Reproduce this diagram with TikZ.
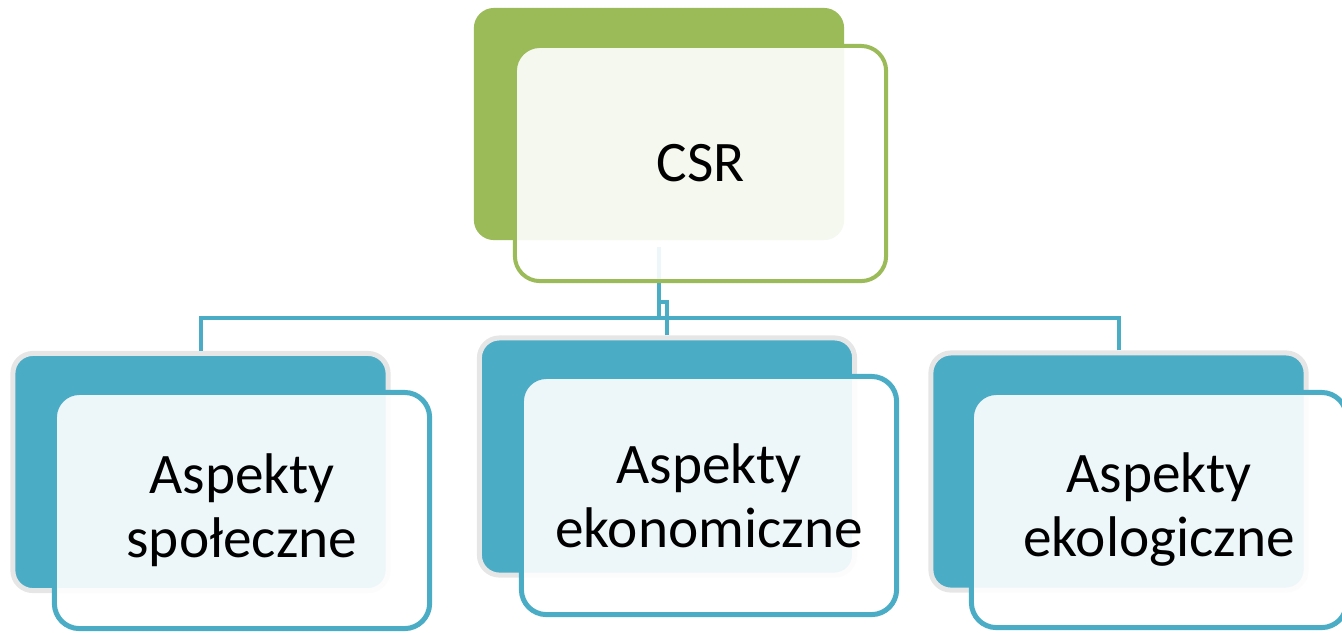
\documentclass[tikz,border=0pt]{standalone}
\usepackage{fontspec}
\setmainfont{Carlito}
\definecolor{csrgreen}{HTML}{9BBB59}
\definecolor{aspteal}{HTML}{4BACC6}
\definecolor{shadegray}{HTML}{E6E6E6}
\tikzset{
    backbox/.style={rounded corners=0.2cm, minimum width=3.75cm, minimum height=2.37cm, inner sep=0pt},
    frontbox/.style={rounded corners=0.25cm, minimum width=3.75cm, minimum height=2.36cm, inner sep=0pt,
        fill=white, fill opacity=0.9, text opacity=1, align=center,
        font=\fontsize{16.3}{18.2}\selectfont},
    link/.style={draw=aspteal, line width=0.04cm}
}
\begin{document}
\begin{tikzpicture}[x=0.01cm, y=-0.01cm]
    \useasboundingbox (0,0) rectangle (1342,632);

    % back boxes
    \node[backbox, fill=csrgreen, minimum width=3.70cm, minimum height=2.32cm] (csrback) at (659,124) {};
    \node[backbox, fill=aspteal, draw=shadegray, line width=0.05cm] (lback) at (200.5,472) {};
    \node[backbox, fill=aspteal, draw=shadegray, line width=0.05cm] (mback) at (667,456.5) {};
    \node[backbox, fill=aspteal, draw=shadegray, line width=0.05cm] (rback) at (1118.5,471.5) {};

    % connectors
    \coordinate (bus) at (659,318);
    \coordinate (jog) at (659,302);
    \draw[link, shorten <=0.06cm] (csrback.south) -- (bus);
    \draw[link] (lback.north) |- (bus);
    \draw[link] (rback.north) |- (bus);
    \draw[link] (mback.north) -- (mback.north |- jog) -- (jog);

    % front boxes
    \node[frontbox, draw=csrgreen, line width=0.04cm, minimum width=3.71cm, minimum height=2.35cm] (csr) at (700.5,163.5) {CSR};
    \node[frontbox, draw=aspteal, line width=0.05cm] (spol) at (242,510.5) {Aspekty\\społeczne};
    \node[frontbox, draw=aspteal, line width=0.05cm, minimum height=2.38cm] (ekon) at (709,495.5) {Aspekty\\ekonomiczne};
    \node[frontbox, draw=aspteal, line width=0.05cm, minimum height=2.35cm] (ekol) at (1159,510) {Aspekty\\ekologiczne};
\end{tikzpicture}
\end{document}
